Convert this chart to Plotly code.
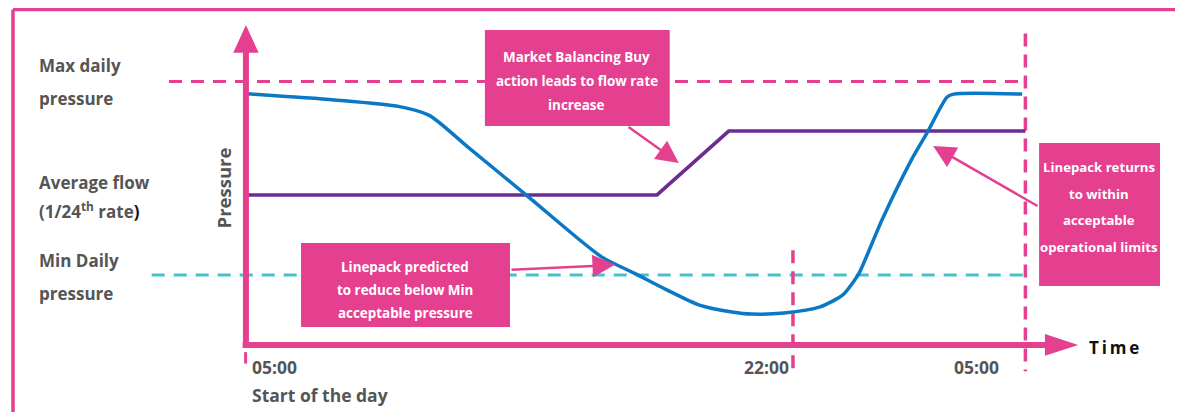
import plotly.graph_objects as go

# ---------------- data (hours after 05:00, pressure in arbitrary units) ----------------
hours_linepack = [0.1, 2.8, 4.8, 5.7, 6.9, 8.8, 11.0, 12.0, 13.0, 14.0, 15.0, 15.6,
                  16.6, 17.7, 18.4, 18.7, 18.9, 19.6, 20.5, 21.0, 21.6, 21.8, 23.9]
linepack = [94.8, 92.5, 90.0, 86.8, 74.8, 55.6, 33.5, 27.4, 21.1, 15.4, 12.8, 12.0,
            12.4, 14.7, 19.2, 23.7, 27.4, 47.4, 69.9, 80.5, 93.6, 94.7, 94.7]

hours_flow = [0.1, 12.7, 14.9, 24.0]
flow = [56.8, 56.8, 80.8, 80.8]

max_pressure = 99.4
min_pressure = 26.7
max_line_hours = [-2.27, 24.0]
min_line_hours = [-2.8, 24.0]

time_2200 = 16.87
day_end = 24.0

level_labels = [("Max daily", 105.3), ("pressure", 93.2),
                ("Average flow", 61.3), ("(1/24<sup>th</sup> rate<span style='color:#111'>)</span>", 50.8),
                ("Min Daily", 32.0), ("pressure", 19.9)]

# ---------------- styling ----------------
PINK = "#E5408F"
BLUE = "#0A78C4"
PURPLE = "#6B2D90"
CYAN = "#45C0CF"
GREY = "#555555"
FONT = "Open Sans"

W, H = 1183, 412
OFF = 8            # page body margin
PX_PER_H = 32.6
PX_PER_P = 2.66
X0 = 243 - OFF     # pixel of 05:00 inside the figure
Y0 = 346 - OFF     # pixel of zero pressure inside the figure
X_RANGE = [-X0 / PX_PER_H, (W - X0) / PX_PER_H]
Y_RANGE = [-(H - Y0) / PX_PER_P, Y0 / PX_PER_P]

fig = go.Figure()

# level lines
fig.add_trace(go.Scatter(x=max_line_hours, y=[max_pressure] * 2, mode="lines",
                         line=dict(color=PINK, width=3, dash="13px,9px"), hoverinfo="skip"))
fig.add_trace(go.Scatter(x=min_line_hours, y=[min_pressure] * 2, mode="lines",
                         line=dict(color=CYAN, width=3, dash="13px,9px"), hoverinfo="skip"))

# vertical time markers
fig.add_trace(go.Scatter(x=[time_2200, time_2200], y=[36, -9.5], mode="lines",
                         line=dict(color=PINK, width=3.5, dash="13px,8px"), hoverinfo="skip"))
fig.add_trace(go.Scatter(x=[day_end, day_end], y=[117.5, -9.5], mode="lines",
                         line=dict(color=PINK, width=3.5, dash="13px,8px"), hoverinfo="skip"))
fig.add_trace(go.Scatter(x=[0.08, 0.08], y=[-2.3, -6.6], mode="lines",
                         line=dict(color=PINK, width=3), hoverinfo="skip"))

# flow and linepack
fig.add_trace(go.Scatter(x=hours_flow, y=flow, mode="lines",
                         line=dict(color=PURPLE, width=3.5), hoverinfo="skip"))
fig.add_trace(go.Scatter(x=hours_linepack, y=linepack, mode="lines",
                         line=dict(color=BLUE, width=3.5, shape="spline", smoothing=0.7),
                         hoverinfo="skip"))

shapes = []
# frame
fx = (13 - OFF) / W
fy = 1 - 1.5 / H
shapes.append(dict(type="line", xref="paper", yref="paper", x0=fx, x1=1.01,
                   y0=fy, y1=fy, line=dict(color=PINK, width=3.5)))
shapes.append(dict(type="line", xref="paper", yref="paper", x0=fx, x1=fx,
                   y0=-0.01, y1=fy, line=dict(color=PINK, width=3.5)))
# axes
ax_x = 0.09
shapes.append(dict(type="line", x0=ax_x, x1=ax_x, y0=-0.4, y1=111, layer="above",
                   line=dict(color=PINK, width=6)))
shapes.append(dict(type="path", layer="above", fillcolor=PINK, line=dict(width=0),
                   path=f"M {ax_x-0.39},110.2 L {ax_x+0.39},110.2 L {ax_x},120.7 Z"))
shapes.append(dict(type="line", x0=-0.01, x1=24.7, y0=0.4, y1=0.4, layer="above",
                   line=dict(color=PINK, width=6)))
shapes.append(dict(type="path", layer="above", fillcolor=PINK, line=dict(width=0),
                   path="M 24.6,4.5 L 24.6,-3.7 L 25.62,0.4 Z"))

# callout boxes
boxes = [(7.42, 13.09, 118.8, 82.7), (1.78, 8.19, 38.7, 7.1), (24.42, 28.13, 76.3, 22.6)]
for x0, x1, y1, y0 in boxes:
    shapes.append(dict(type="rect", x0=x0, x1=x1, y0=y0, y1=y1, layer="above",
                       fillcolor=PINK, line=dict(width=0)))

ann = []
def txt(x, y, s, size=15, color=GREY, xanchor="left", **kw):
    ann.append(dict(x=x, y=y, text=f"<b>{s}</b>", showarrow=False, xanchor=xanchor,
                    yanchor="middle", font=dict(family=FONT, size=size, color=color), **kw))

for s, y in level_labels:
    txt(-6.33, y, s, size=17)

txt(-0.6, 59.4, "Pressure", size=18.5, xanchor="center", textangle=-90)
txt(0.2, -7.9, "05:00", size=17.5)
txt(0.2, -18.4, "Start of the day", size=17.5)
txt(16.8, -7.9, "22:00", size=17.5, xanchor="right")
txt(22.49, -7.9, "05:00", size=17.5, xanchor="center")
txt(25.9, -0.4, "T\u2009i\u2009m\u2009e", size=17, color="#111111")

box_text = [
    (10.23, [("Market Balancing Buy", 108.6), ("action leads to flow rate", 99.6), ("increase", 90.6)], 13.4),
    (4.98, [("Linepack predicted", 29.7), ("to reduce below Min", 21.1), ("acceptable pressure", 12.4)], 13.4),
    (26.27, [("Linepack returns", 67.3), ("to within", 57.1), ("acceptable", 47.4), ("operational limits", 37.2)], 13.2),
]
for cx, lines, fs in box_text:
    for s, y in lines:
        txt(cx, y, s, size=fs, color="white", xanchor="center")

# callout arrows
arrows = [((11.78, 82.7), (13.37, 68.8)), ((8.19, 28.6), (11.41, 30.5)), ((24.42, 52.3), (21.17, 75.2))]
for (tx, ty), (hx, hy) in arrows:
    ann.append(dict(x=hx, y=hy, ax=tx, ay=ty, axref="x", ayref="y", xref="x", yref="y",
                    text="", showarrow=True, arrowhead=2, arrowsize=1.8, arrowwidth=2.5,
                    arrowcolor=PINK))

fig.update_layout(
    width=W, height=H, autosize=False,
    margin=dict(l=0, r=0, t=0, b=0),
    paper_bgcolor="white", plot_bgcolor="white",
    showlegend=False,
    xaxis=dict(range=X_RANGE, visible=False, fixedrange=True),
    yaxis=dict(range=Y_RANGE, visible=False, fixedrange=True),
    shapes=shapes, annotations=ann,
)

fig.write_html("out.html")
